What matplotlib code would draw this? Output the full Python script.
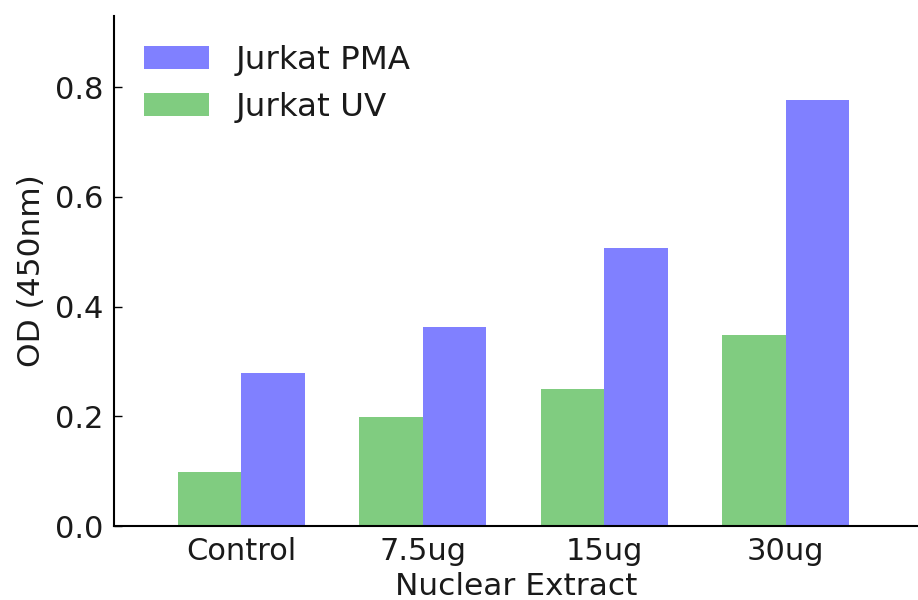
import matplotlib
matplotlib.use("Agg")
import matplotlib.pyplot as plt
import numpy as np

categories = ["Control", "7.5ug", "15ug", "30ug"]
uv_values = [0.098, 0.198, 0.249, 0.349]
pma_values = [0.278, 0.363, 0.506, 0.776]

width = 0.35
ind = np.arange(len(categories))

fig = plt.figure(figsize=(9.18, 6.0), dpi=100)
ax = fig.add_axes([0.1245, 0.1233, 1.0 - 0.1245, 0.8505])

ax.bar(ind, uv_values, width, align="edge", color="#80cc80", edgecolor="none", label="Jurkat UV", zorder=2)
ax.bar(ind + width, pma_values, width, align="edge", color="#8080ff", edgecolor="none", label="Jurkat PMA", zorder=2)

ax.set_xlim(-0.35, 4.08)
ax.set_ylim(0, 0.93)
ax.set_xticks(ind + width)
ax.set_xticklabels(categories)
ax.set_yticks([0.0, 0.2, 0.4, 0.6, 0.8])
ax.set_yticklabels(["0.0", "0.2", "0.4", "0.6", "0.8"])

fs = 22
ax.tick_params(axis="both", direction="in", length=6, width=1, labelsize=fs, pad=8,
               top=False, right=False, colors="black", labelcolor="#1a1a1a")
ax.spines["top"].set_visible(False)
ax.spines["right"].set_visible(False)
for s in ["left", "bottom"]:
    ax.spines[s].set_linewidth(1.5)

ax.set_xlabel("Nuclear Extract", fontsize=22.5, labelpad=4, color="#1a1a1a")
ax.set_ylabel("OD (450nm)", fontsize=22.5, labelpad=6, color="#1a1a1a")

handles, labels = ax.get_legend_handles_labels()
leg = ax.legend(handles[::-1], labels[::-1], loc="upper left", frameon=False, fontsize=23.4,
                handlelength=2.0, handleheight=0.7, handletextpad=0.83, labelspacing=0.5,
                borderaxespad=0.5, borderpad=0.4)
for t in leg.get_texts():
    t.set_color("#1a1a1a")

fig.savefig("out.png", dpi=100)
